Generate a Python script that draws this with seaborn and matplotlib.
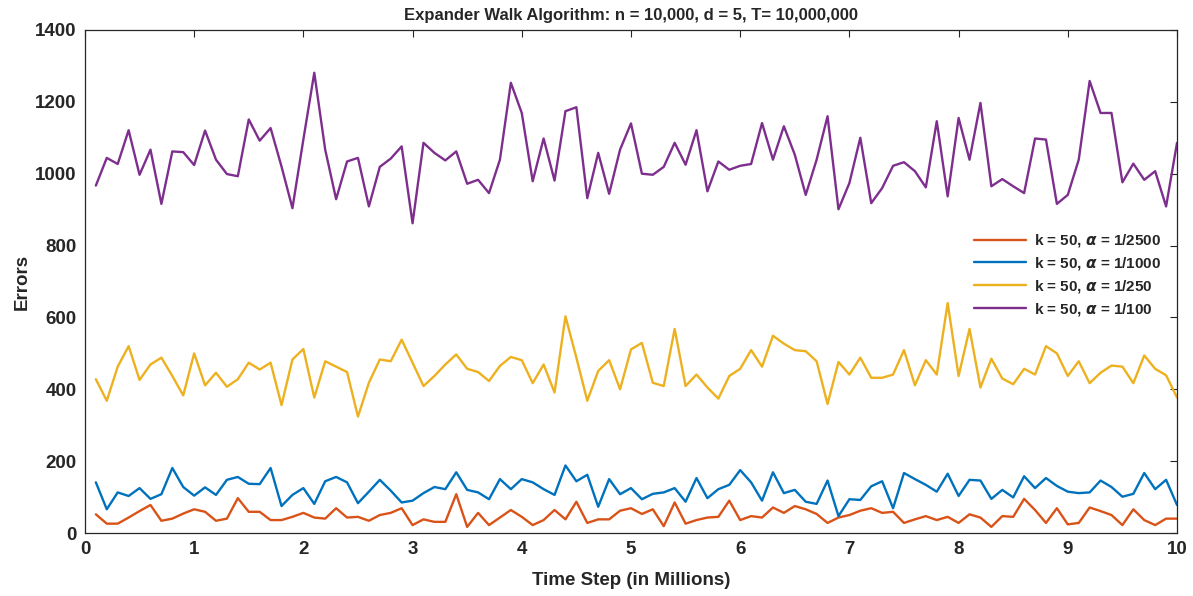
import numpy as np
import pandas as pd
import matplotlib
matplotlib.use("Agg")
import matplotlib.pyplot as plt
import seaborn as sns

# time steps in millions: 0.1 .. 10.0
time_steps = [round(0.1 * i, 1) for i in range(1, 101)]

err_a2500 = [52, 26, 26, 43, 61, 78, 34, 40, 54, 66,
             59, 34, 40, 97, 59, 59, 36, 36, 45, 56,
             43, 40, 69, 43, 45, 34, 50, 56, 69, 22,
             38, 31, 31, 108, 17, 56, 22, 43, 64, 45,
             22, 36, 64, 38, 87, 28, 38, 38, 62, 69,
             53, 66, 19, 85, 26, 36, 43, 45, 90, 36,
             47, 43, 71, 56, 75, 66, 53, 28, 43, 50,
             62, 69, 56, 59, 28, 38, 47, 36, 45, 28,
             52, 43, 17, 47, 45, 95, 64, 28, 69, 24,
             28, 71, 61, 50, 22, 66, 36, 22, 40, 40]

err_a1000 = [141, 66, 113, 103, 125, 95, 108, 181, 128, 104,
             127, 106, 148, 156, 137, 136, 181, 75, 106, 125,
             81, 144, 156, 141, 83, 115, 148, 118, 85, 90,
             111, 128, 122, 169, 120, 113, 94, 150, 122, 150,
             141, 122, 106, 188, 144, 162, 73, 150, 108, 125,
             94, 109, 113, 125, 87, 153, 97, 122, 134, 175,
             141, 90, 169, 111, 120, 87, 81, 146, 47, 94,
             92, 130, 144, 69, 167, 150, 134, 115, 165, 103,
             148, 146, 95, 120, 99, 158, 125, 153, 131, 115,
             111, 113, 146, 128, 101, 109, 167, 122, 148, 78]

err_a250 = [428, 368, 463, 520, 426, 469, 488, 437, 383, 500,
            411, 446, 407, 428, 474, 455, 474, 356, 483, 512,
            377, 478, 463, 448, 324, 418, 483, 478, 538, 474,
            409, 437, 469, 497, 457, 448, 423, 465, 490, 481,
            417, 469, 391, 603, 488, 368, 451, 481, 400, 511,
            529, 418, 409, 568, 409, 441, 405, 374, 437, 457,
            509, 463, 549, 527, 509, 506, 478, 359, 476, 441,
            488, 432, 432, 441, 509, 411, 481, 441, 640, 437,
            568, 405, 485, 430, 414, 457, 441, 520, 500, 437,
            478, 417, 446, 466, 463, 417, 494, 457, 439, 377]

err_a100 = [967, 1044, 1027, 1121, 997, 1067, 916, 1062, 1060, 1024,
            1120, 1039, 999, 993, 1151, 1092, 1127, 1020, 904, 1095,
            1281, 1067, 929, 1034, 1044, 909, 1019, 1042, 1076, 862,
            1086, 1058, 1037, 1062, 972, 983, 946, 1039, 1253, 1169,
            979, 1098, 981, 1174, 1185, 932, 1058, 944, 1067, 1140,
            1000, 997, 1019, 1086, 1025, 1121, 951, 1034, 1011, 1022,
            1027, 1141, 1039, 1132, 1053, 941, 1039, 1160, 901, 974,
            1100, 918, 960, 1022, 1032, 1007, 962, 1146, 937, 1155,
            1039, 1197, 965, 985, 965, 946, 1098, 1095, 916, 941,
            1039, 1258, 1169, 1169, 976, 1028, 983, 1007, 909, 1086]

series_labels = [r"k = 50, $\alpha$ = 1/2500", r"k = 50, $\alpha$ = 1/1000",
                 r"k = 50, $\alpha$ = 1/250", r"k = 50, $\alpha$ = 1/100"]
series_colors = ["#D95319", "#0072BD", "#EDB120", "#7E2F8E"]

frames = []
for label, vals in zip(series_labels, [err_a2500, err_a1000, err_a250, err_a100]):
    frames.append(pd.DataFrame({"t": time_steps, "errors": vals, "series": label}))
df = pd.concat(frames, ignore_index=True)

sns.set_style("white")
plt.rcParams["font.family"] = ["Liberation Sans", "DejaVu Sans"]
plt.rcParams["font.weight"] = "bold"
plt.rcParams["mathtext.default"] = "it"

fig = plt.figure(figsize=(11.93, 5.96), dpi=100)
ax = fig.add_axes([0.0712, 0.1057, 0.9154, 0.844])

sns.lineplot(data=df, x="t", y="errors", hue="series",
             palette=dict(zip(series_labels, series_colors)),
             linewidth=1.7, ax=ax, sort=False)

ax.set_xlim(0, 10)
ax.set_ylim(0, 1400)
ax.set_xticks(range(0, 11))
ax.set_yticks(range(0, 1401, 200))
ax.tick_params(direction="in", top=True, right=True, length=5,
               labelsize=13.5, colors="#262626", pad=6)
for lbl in ax.get_xticklabels() + ax.get_yticklabels():
    lbl.set_fontweight("bold")
for sp in ax.spines.values():
    sp.set_color("#262626")
    sp.set_linewidth(0.9)

ax.set_xlabel("Time Step (in Millions)", fontsize=13.5, fontweight="bold", labelpad=10)
ax.set_ylabel("Errors", fontsize=13.5, fontweight="bold", labelpad=3)
ax.set_title("Expander Walk Algorithm: n = 10,000, d = 5, T= 10,000,000",
             fontsize=12, fontweight="bold", pad=7)

leg = ax.legend(loc="upper right", bbox_to_anchor=(0.998, 0.625), frameon=False,
                fontsize=11, handlelength=3.4, labelspacing=0.38, handletextpad=0.5)
for txt in leg.get_texts():
    txt.set_fontweight("bold")

fig.savefig("out.png", dpi=100)
plt.close(fig)
